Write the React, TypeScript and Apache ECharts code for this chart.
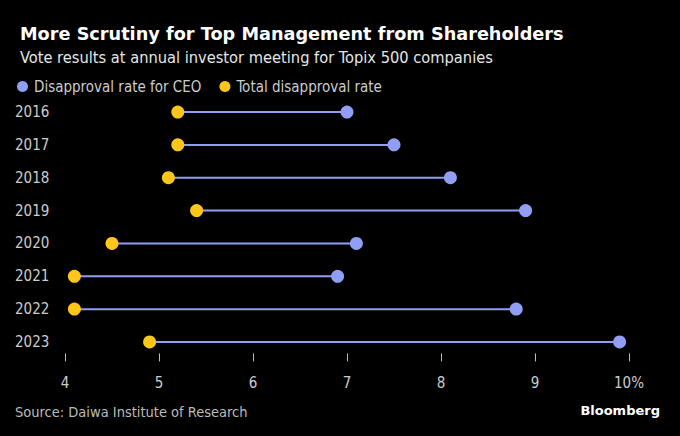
import React, { useEffect, useRef } from "react";
import * as echarts from "echarts";

const years = ["2016", "2017", "2018", "2019", "2020", "2021", "2022", "2023"];
const ceoRate = [7.0, 7.5, 8.1, 8.9, 7.1, 6.9, 8.8, 9.9];
const totalRate = [5.2, 5.2, 5.1, 5.4, 4.5, 4.1, 4.1, 4.9];
const xTicks = [4, 5, 6, 7, 8, 9, 10];

const BLUE = "#909ef5";
const YELLOW = "#ffc61a";
const NARROW = "'Liberation Sans Narrow', 'DejaVu Sans Condensed', 'Roboto Condensed', sans-serif";

export default function App() {
  const ref = useRef<HTMLDivElement>(null);
  useEffect(() => {
    if (!ref.current) return;
    const chart = echarts.init(ref.current, null, { renderer: "svg" });
    const rangeData = years.map((y, i) => [totalRate[i], ceoRate[i], i]);
    chart.setOption({
      animation: false,
      backgroundColor: "#000000",
      title: {
        text: "More Scrutiny for Top Management from Shareholders",
        subtext: "Vote results at annual investor meeting for Topix 500 companies",
        left: 15,
        top: 20,
        itemGap: 6,
        textStyle: { color: "#ffffff", fontSize: 17.7, fontWeight: "bold", fontFamily: "'DejaVu Sans', sans-serif" },
        subtextStyle: { color: "#e6e6e6", fontSize: 16.3, fontFamily: NARROW },
      },
      legend: {
        left: 12,
        top: 74,
        icon: "circle",
        itemWidth: 11,
        itemHeight: 11,
        itemGap: 18,
        textStyle: { color: "#cccccc", fontSize: 15, fontFamily: NARROW, padding: [0, 0, 0, 1] },
        data: ["Disapproval rate for CEO", "Total disapproval rate"],
      },
      grid: { left: 65, right: 51, top: 95.6, bottom: 77.6, containLabel: false },
      xAxis: {
        type: "value",
        min: xTicks[0],
        max: xTicks[xTicks.length - 1],
        interval: 1,
        offset: -5,
        axisLine: { show: false },
        axisTick: { show: true, length: 8, lineStyle: { color: "#bbbbbb", width: 1 } },
        splitLine: { show: false },
        axisLabel: {
          color: "#cccccc",
          fontSize: 15,
          fontFamily: NARROW,
          margin: 22,
          formatter: (v: number) => (v === 10 ? "10%" : String(v)),
        },
      },
      yAxis: {
        type: "category",
        data: years,
        inverse: true,
        axisLine: { show: false },
        axisTick: { show: false },
        axisLabel: {
          color: "#cccccc",
          fontSize: 15,
          fontFamily: NARROW,
          align: "left",
          margin: 50,
        },
      },
      series: [
        {
          type: "custom",
          name: "range",
          silent: true,
          renderItem: (params: any, api: any) => {
            const p1 = api.coord([api.value(0), api.value(2)]);
            const p2 = api.coord([api.value(1), api.value(2)]);
            return {
              type: "line",
              shape: { x1: p1[0], y1: p1[1], x2: p2[0], y2: p2[1] },
              style: { stroke: BLUE, lineWidth: 2 },
            };
          },
          encode: { x: [0, 1], y: 2 },
          data: rangeData,
          z: 1,
        },
        {
          type: "scatter",
          name: "Disapproval rate for CEO",
          data: ceoRate.map((v, i) => [v, years[i]]),
          symbolSize: 13,
          itemStyle: { color: BLUE, opacity: 1 },
          z: 3,
        },
        {
          type: "scatter",
          name: "Total disapproval rate",
          data: totalRate.map((v, i) => [v, years[i]]),
          symbolSize: 13,
          itemStyle: { color: YELLOW, opacity: 1 },
          z: 3,
        },
      ],
      graphic: [
        {
          type: "text",
          left: 15,
          top: 404,
          style: { text: "Source: Daiwa Institute of Research", fill: "#bbbbbb", fontSize: 14.5, fontFamily: NARROW },
        },
        {
          type: "text",
          right: 20,
          top: 404,
          style: { text: "Bloomberg", fill: "#ffffff", fontSize: 13, fontWeight: "bold", fontFamily: "'DejaVu Sans', sans-serif" },
        },
      ],
    });
    return () => chart.dispose();
  }, []);
  return <div ref={ref} style={{ width: 680, height: 436, position: "absolute", left: 0, top: 0 }} />;
}
